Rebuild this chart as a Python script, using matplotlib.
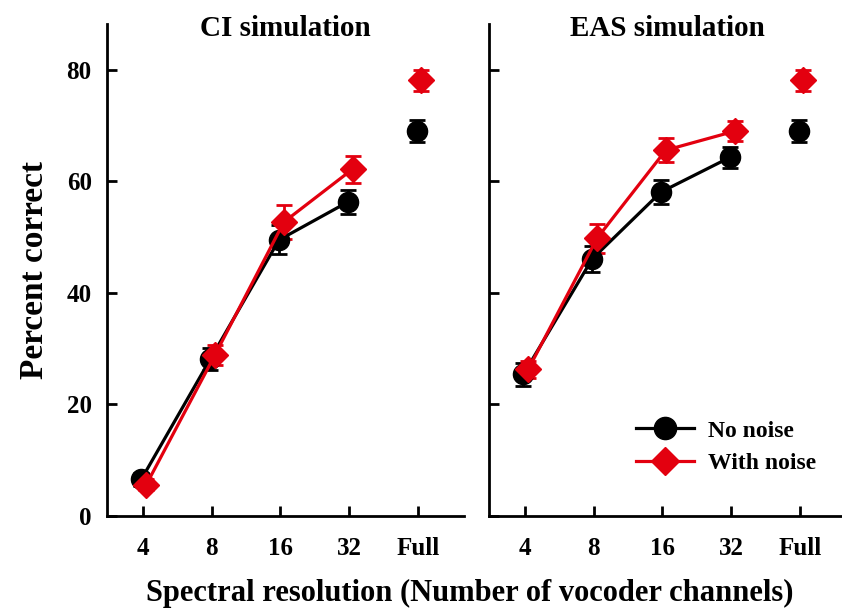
import numpy as np
import matplotlib
matplotlib.use("Agg")
import matplotlib.pyplot as plt
from matplotlib.lines import Line2D

plt.rcParams['font.family'] = ['Liberation Serif', 'DejaVu Serif']
plt.rcParams['font.weight'] = 'bold'

channels = ['4', '8', '16', '32', 'Full']
panels = ['CI simulation', 'EAS simulation']

ci_quiet = [6.6, 28.1, 49.5, 56.3, 69.0]
ci_quiet_err = [1.2, 2.0, 2.6, 2.2, 2.0]
ci_noise = [5.6, 28.9, 52.7, 62.2, 78.1]
ci_noise_err = [1.0, 1.8, 3.0, 2.4, 1.9]

eas_quiet = [25.4, 46.1, 58.1, 64.3, 69.0]
eas_quiet_err = [2.0, 2.3, 2.2, 1.9, 2.0]
eas_noise = [26.3, 49.8, 65.6, 69.0, 78.1]
eas_noise_err = [1.5, 2.6, 2.2, 1.8, 1.9]

red = '#e3000f'
x = np.arange(len(channels))

fig = plt.figure(figsize=(8.42, 6.08), dpi=100)
axes = [fig.add_axes([0.1271, 0.1513, 0.424, 0.809]),
        fig.add_axes([0.5808, 0.1513, 0.424, 0.809])]

data = [(ci_quiet, ci_quiet_err, ci_noise, ci_noise_err),
        (eas_quiet, eas_quiet_err, eas_noise, eas_noise_err)]

styles = [('black', 'o', -0.02, 14.5), (red, 'D', 0.05, 13)]

for ax, title, (q, qe, n, ne) in zip(axes, panels, data):
    # 4..32 joined by a line, Full plotted on its own
    for (col, mk, dx, ms), vals, errs in zip(styles, [q, n], [qe, ne]):
        ax.errorbar(x[:4] + dx, vals[:4], yerr=errs[:4], color=col, marker=mk,
                    ms=ms, lw=2.3, elinewidth=2, capsize=6, capthick=2)
        ax.errorbar(x[4:] + dx, vals[4:], yerr=errs[4:], color=col, marker=mk,
                    ms=ms, lw=0, elinewidth=2, capsize=6, capthick=2)
    ax.set_xlim(-0.52, 4.67)
    ax.set_ylim(0, 88.2)
    ax.set_xticks(x)
    ax.set_xticklabels(channels)
    ax.set_yticks([0, 20, 40, 60, 80])
    ax.spines['top'].set_visible(False)
    ax.spines['right'].set_visible(False)
    ax.spines['left'].set_linewidth(2)
    ax.spines['bottom'].set_linewidth(2)
    ax.tick_params(direction='in', length=7, width=2, labelsize=18)
    ax.tick_params(axis='x', pad=15)
    ax.tick_params(axis='y', pad=11)
    ax.text(0.5, 0.992, title, transform=ax.transAxes, ha='center', va='center',
            fontsize=21, fontweight='bold')

axes[1].set_yticklabels([])
axes[0].set_ylabel('Percent correct', fontsize=24, fontweight='bold', labelpad=12)
fig.text(0.558, 0.024, 'Spectral resolution (Number of vocoder channels)',
         ha='center', va='center', fontsize=22, fontweight='bold')

handles = [Line2D([], [], color='black', marker='o', ms=16, lw=2.3),
           Line2D([], [], color=red, marker='D', ms=14, lw=2.3)]
axes[1].legend(handles, ['No noise', 'With noise'], loc='upper left',
               bbox_to_anchor=(0.755, 0.309), bbox_transform=fig.transFigure,
               frameon=False, borderpad=0, borderaxespad=0, handlelength=2.45,
               handletextpad=0.6, labelspacing=0.45,
               prop={'size': 17, 'weight': 'bold'})

fig.savefig('out.png', dpi=100)
